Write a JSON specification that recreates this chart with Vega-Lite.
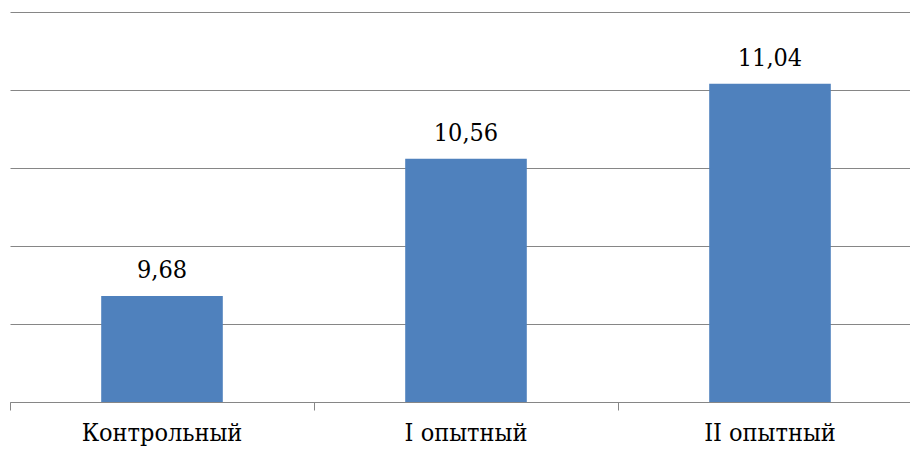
{
  "$schema": "https://vega.github.io/schema/vega-lite/v6.json",
  "width": 912,
  "height": 390,
  "autosize": {"type": "none"},
  "padding": {"left": 10, "top": 12, "right": 0, "bottom": 49},
  "background": "white",
  "config": {
    "view": {"stroke": null},
    "locale": {
      "number": {"decimal": ",", "thousands": " ", "grouping": [3], "currency": ["", " ₽"]}
    }
  },
  "data": {
    "values": [
      {"group": "Контрольный", "value": 9.68},
      {"group": "I опытный", "value": 10.56},
      {"group": "II опытный", "value": 11.04}
    ]
  },
  "encoding": {
    "x": {
      "field": "group",
      "type": "nominal",
      "sort": null,
      "scale": {"paddingInner": 0, "paddingOuter": 0},
      "axis": {
        "title": null,
        "labelAngle": 0,
        "bandPosition": 0,
        "labelFont": "DejaVu Serif Condensed",
        "labelFontSize": 25,
        "labelColor": "#000000",
        "labelPadding": 10,
        "domainColor": "#868686",
        "domainWidth": 1,
        "tickColor": "#868686",
        "tickSize": 8,
        "tickWidth": 1,
        "grid": false,
        "zindex": 1
      }
    },
    "y": {
      "field": "value",
      "type": "quantitative",
      "scale": {"domain": [9, 11.5], "zero": false, "nice": false},
      "axis": {
        "title": null,
        "labels": false,
        "ticks": false,
        "domain": false,
        "values": [9, 9.5, 10, 10.5, 11, 11.5],
        "grid": true,
        "gridColor": "#868686",
        "gridWidth": 1
      }
    }
  },
  "layer": [
    {
      "mark": {"type": "bar", "color": "#4F81BD", "width": {"band": 0.4}},
      "encoding": {"y2": {"datum": 9}}
    },
    {
      "mark": {
        "type": "text",
        "font": "DejaVu Serif Condensed",
        "fontSize": 25,
        "color": "#000000",
        "baseline": "alphabetic",
        "dy": -18
      },
      "encoding": {
        "text": {"field": "value", "type": "quantitative", "format": ".2f"}
      }
    }
  ]
}
